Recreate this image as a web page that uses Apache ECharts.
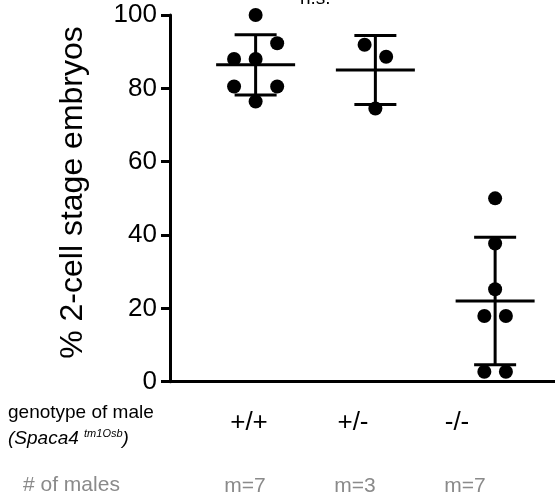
<!DOCTYPE html>
<html>
<head>
<meta charset="utf-8">
<script src="https://cdn.jsdelivr.net/npm/echarts@6/dist/echarts.min.js"></script>
<style>
  html, body { margin: 0; padding: 0; background: #fff; }
  #chart { width: 555px; height: 502px; }
</style>
</head>
<body>
<div id="chart"></div>
<script>
var FONT = 'Liberation Sans, Arial, Helvetica, sans-serif';

// genotypes (x groups) and number of males per group
var genotypes = ['+/+', '+/-', '-/-'];
var maleCounts = ['m=7', 'm=3', 'm=7'];
var yTicks = [0, 20, 40, 60, 80, 100];

// % 2-cell stage embryos per male, with horizontal jitter inside the group
var wtValues = [100, 92.3, 88, 88, 80.5, 80.5, 76.4];
var wtJitter = [0, 0.18, -0.18, 0, -0.18, 0.18, 0];
var hetValues = [91.9, 88.6, 74.5];
var hetJitter = [-0.09, 0.09, 0];
var koValues = [50, 37.7, 25.2, 17.9, 17.9, 2.7, 2.7];
var koJitter = [0, 0, 0, -0.09, 0.09, -0.09, 0.09];

// mean and SD for each group
var means = [86.4, 85.0, 22.0];
var sds = [8.2, 9.4, 17.4];

var groups = [[wtValues, wtJitter], [hetValues, hetJitter], [koValues, koJitter]];
var dots = [];
groups.forEach(function (g, i) {
    g[0].forEach(function (v, j) {
        dots.push([i + 1 + g[1][j], v]);
    });
});

var barData = means.map(function (m, i) { return [i + 1, m, sds[i]]; });

var lineStyle = { stroke: '#000', lineWidth: 3 };

var renderBar = function (params, api) {
    var x = api.value(0), m = api.value(1), sd = api.value(2);
    var c = api.coord([x, m]);
    var top = api.coord([x, m + sd]);
    var bot = api.coord([x, m - sd]);
    var halfMean = 39.5, halfCap = 21;
    return {
        type: 'group',
        children: [
            { type: 'line', shape: { x1: c[0], y1: top[1], x2: c[0], y2: bot[1] }, style: lineStyle },
            { type: 'line', shape: { x1: c[0] - halfMean, y1: c[1], x2: c[0] + halfMean, y2: c[1] }, style: lineStyle },
            { type: 'line', shape: { x1: c[0] - halfCap, y1: top[1], x2: c[0] + halfCap, y2: top[1] }, style: lineStyle },
            { type: 'line', shape: { x1: c[0] - halfCap, y1: bot[1], x2: c[0] + halfCap, y2: bot[1] }, style: lineStyle }
        ]
    };
};

var option = {
    animation: false,
    backgroundColor: '#fff',
    textStyle: { fontFamily: FONT },
    grid: [
        { left: 170, right: 0, top: 15, bottom: 120.3 },
        { left: 197, right: 46, top: 300, bottom: 94 },
        { left: 190, right: 35, top: 300, bottom: 28 }
    ],
    xAxis: [
        {
            type: 'value', gridIndex: 0, min: 0.285, max: 3.5,
            splitLine: { show: false },
            axisLine: { show: true, onZero: false, lineStyle: { color: '#000', width: 3 } },
            axisTick: { show: false },
            axisLabel: { show: false }
        },
        {
            type: 'category', gridIndex: 1, data: genotypes,
            axisLine: { show: false }, axisTick: { show: false },
            axisLabel: { color: '#000', fontSize: 26, fontFamily: FONT, margin: 2, verticalAlign: 'top' }
        },
        {
            type: 'category', gridIndex: 2, data: maleCounts,
            axisLine: { show: false }, axisTick: { show: false },
            axisLabel: { color: '#8a8a8a', fontSize: 21, fontFamily: FONT, margin: 2, verticalAlign: 'top' }
        }
    ],
    yAxis: [
        {
            type: 'value', gridIndex: 0, min: 0, max: 100, interval: 20,
            splitLine: { show: false },
            axisLine: { show: true, lineStyle: { color: '#000', width: 3 } },
            axisTick: { show: true, length: 9, lineStyle: { color: '#000', width: 3 } },
            axisLabel: {
                color: '#000', fontSize: 26, fontFamily: FONT, margin: 13,
                customValues: yTicks
            }
        },
        { type: 'value', gridIndex: 1, show: false },
        { type: 'value', gridIndex: 2, show: false }
    ],
    graphic: [
        {
            type: 'text', x: 73, y: 192.5, rotation: Math.PI / 2,
            style: {
                text: '% 2-cell stage embryos', fill: '#000', fontSize: 32, fontFamily: FONT,
                align: 'center', verticalAlign: 'middle'
            }
        },
        {
            type: 'text', left: 300, top: -11,
            style: { text: 'n.s.', fill: '#000', fontSize: 19, fontFamily: FONT }
        },
        {
            type: 'text', left: 8, top: 403,
            style: { text: 'genotype of male', fill: '#000', fontSize: 19, fontFamily: FONT }
        },
        {
            type: 'text', left: 8, top: 428,
            style: {
                text: '{i|(Spaca4 }{s|tm1Osb}{i|)}',
                fill: '#000', fontFamily: FONT,
                rich: {
                    i: { fontSize: 19, fontStyle: 'italic', fontFamily: FONT, fill: '#000', lineHeight: 22 },
                    s: { fontSize: 11, fontStyle: 'italic', fontFamily: FONT, fill: '#000', verticalAlign: 'top', lineHeight: 22, padding: [0, 0, 10, 0] }
                }
            }
        },
        {
            type: 'text', left: 23, top: 475,
            style: { text: '# of males', fill: '#8a8a8a', fontSize: 21, fontFamily: FONT }
        }
    ],
    series: [
        {
            type: 'custom', xAxisIndex: 0, yAxisIndex: 0,
            renderItem: renderBar,
            data: barData,
            z: 2
        },
        {
            type: 'scatter', xAxisIndex: 0, yAxisIndex: 0,
            symbol: 'circle', symbolSize: 14,
            itemStyle: { color: '#000', opacity: 1 },
            data: dots,
            z: 3
        }
    ]
};

var chart = echarts.init(document.getElementById('chart'));
chart.setOption(option);
window.addEventListener('resize', chart.resize);
</script>
</body>
</html>
